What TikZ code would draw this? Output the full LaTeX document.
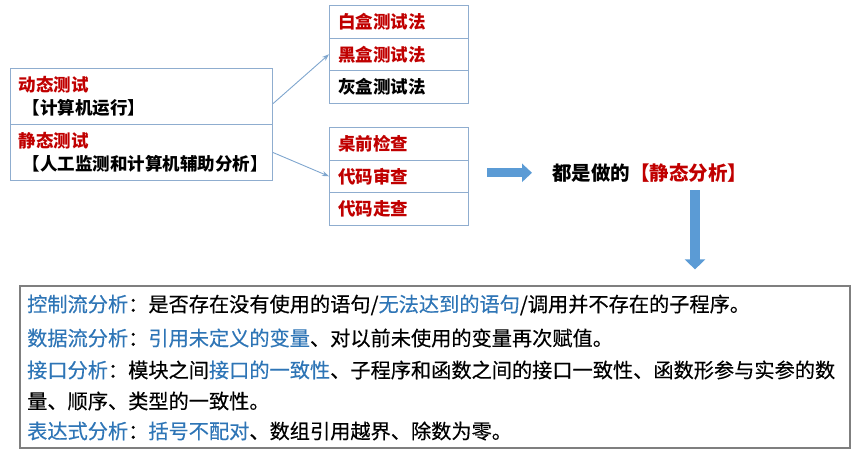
\documentclass[tikz,border=0pt]{standalone}
\usepackage{fontspec}
\setmainfont{Noto Sans CJK SC}
\newfontfamily\bodyfont{Noto Sans CJK SC}[FakeBold=0.35]
\usetikzlibrary{arrows.meta,calc}
\definecolor{myred}{HTML}{C00000}
\definecolor{txtblue}{HTML}{2E75B6}
\definecolor{boxblue}{HTML}{8FADCF}
\definecolor{arrowblue}{HTML}{7FA6CE}
\definecolor{fillblue}{HTML}{5B9BD5}
\definecolor{boxgray}{HTML}{7F7F7F}
\begin{document}
\begin{tikzpicture}[x=1pt,y=-1pt,
  rowbox/.style={draw=boxblue, line width=1.1pt, minimum width=139pt, minimum height=32.5pt, text width=122pt, inner xsep=8.5pt, inner ysep=0pt, align=left, font=\fontsize{17.5pt}{20pt}\selectfont\bfseries, anchor=north west},
  leftbox/.style={draw=boxblue, line width=1.1pt, minimum width=262pt, minimum height=56pt, text width=246pt, inner xsep=8pt, inner ysep=0pt, align=left, font=\fontsize{17.5pt}{23pt}\selectfont\bfseries, anchor=north west},
  thinarrow/.style={draw=arrowblue, line width=0.9pt, -{Stealth[length=7pt,width=5pt]}},
  blockarrow/.style={draw=fillblue, line width=9pt, -{Triangle[length=10pt,width=18pt]}},
  bodyline/.style={anchor=west, inner sep=0pt, font=\fontsize{20.2pt}{24pt}\bodyfont},
]
\useasboundingbox (0,0) rectangle (865,455);

% left box
\node[leftbox] (dyn) at (10,68) {\textcolor{myred}{动态测试}\\\hspace*{4pt}【计算机运行】};
\node[leftbox] (sta) at (10,124) {\textcolor{myred}{静态测试}\\\hspace*{4pt}【人工监测和计算机辅助分析】};

% right top box
\node[rowbox, text=myred] (w1) at (329,5) {白盒测试法};
\node[rowbox, text=myred] (w2) at (329,37.5) {黑盒测试法};
\node[rowbox] (w3) at (329,70) {灰盒测试法};

% right bottom box
\node[rowbox, text=myred] (c1) at (329,127) {桌前检查};
\node[rowbox, text=myred] (c2) at (329,159.5) {代码审查};
\node[rowbox, text=myred] (c3) at (329,192) {代码走查};

% thin arrows
\draw[thinarrow] ([yshift=-7pt]dyn.east) -- (w2.west);
\draw[thinarrow] (sta.east) -- (c2.west);

% conclusion
\node[anchor=west, inner sep=0pt, font=\fontsize{19.5pt}{22pt}\selectfont\bfseries] (concl) at (552,173) {都是做的\textcolor{myred}{【静态分析】}};

% bottom box
\node[draw=boxgray, line width=1.2pt, minimum width=830pt, minimum height=162pt, inner sep=0pt] (box) at (435,367) {};

% block arrows
\draw[blockarrow, shorten <=18pt, shorten >=20pt] ([yshift=3.5pt]c2.east) -- ([yshift=3.5pt]c2.east -| concl.west);
\coordinate (dtop) at (695,190);
\draw[blockarrow, line width=10pt, -{Triangle[length=10pt,width=20pt]}, shorten >=16pt] (dtop) -- (dtop |- box.north);

% body text
\node[bodyline] (l1) at (27,305) {\textcolor{txtblue}{控制流分析}：是否存在没有使用的语句/\textcolor{txtblue}{无法达到的语句}/调用并不存在的子程序。};
\node[bodyline] (l2) at (27,338) {\textcolor{txtblue}{数据流分析}：\textcolor{txtblue}{引用未定义的变量}、对以前未使用的变量再次赋值。};
\node[bodyline] (l3) at (27,370) {\textcolor{txtblue}{接口分析}：模块之间\textcolor{txtblue}{接口的一致性}、子程序和函数之间的接口一致性、函数形参与实参的数};
\node[bodyline] (l4) at (27,401) {量、顺序、类型的一致性。};
\node[bodyline] (l5) at (27,431) {\textcolor{txtblue}{表达式分析}：\textcolor{txtblue}{括号不配对}、数组引用越界、除数为零。};
\end{tikzpicture}
\end{document}
